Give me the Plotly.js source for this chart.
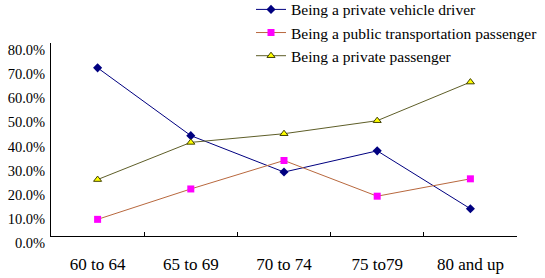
<!DOCTYPE html>
<html>
<head>
<meta charset="utf-8">
<script src="https://cdn.plot.ly/plotly-3.0.1.min.js"></script>
<style>
  html, body { margin: 0; padding: 0; background: #fff; }
  #chart { width: 545px; height: 278px; }
</style>
</head>
<body>
<div id="chart"></div>
<script>
// Age groups on the category axis
const ageGroups = ["60 to 64", "65 to 69", "70 to 74", "75 to79", "80 and up"];

// Share of respondents for each travel role (fractions)
const privateDriver = [0.697, 0.416, 0.265, 0.353, 0.113];
const publicPassenger = [0.069, 0.195, 0.313, 0.165, 0.237];
const privatePassenger = [0.234, 0.388, 0.424, 0.478, 0.638];

// Y axis tick values and labels
const yTickVals = [0, 0.1, 0.2, 0.3, 0.4, 0.5, 0.6, 0.7, 0.8];
const yTickText = ["0.0%", "10.0%", "20.0%", "30.0%", "40.0%", "50.0%", "60.0%", "70.0%", "80.0%"];

const serif = "Liberation Serif, Times New Roman, serif";

const traces = [
  {
    name: "Being a private vehicle driver",
    x: ageGroups, y: privateDriver,
    type: "scatter", mode: "lines+markers",
    line: { color: "#000080", width: 1 },
    marker: { symbol: "diamond", size: 7, color: "#000080" }
  },
  {
    name: "Being a public transportation passenger",
    x: ageGroups, y: publicPassenger,
    type: "scatter", mode: "lines+markers",
    line: { color: "#b8683e", width: 1 },
    marker: { symbol: "square", size: 7, color: "#ff00ff" }
  },
  {
    name: "Being a private passenger",
    x: ageGroups, y: privatePassenger,
    type: "scatter", mode: "lines+markers",
    line: { color: "#5e5e28", width: 1 },
    marker: { symbol: "triangle-up", size: 7, color: "#ffff00",
              line: { color: "#404000", width: 1 } }
  }
];

const layout = {
  width: 545, height: 278,
  paper_bgcolor: "#ffffff", plot_bgcolor: "#ffffff",
  margin: { l: 51, r: 28, t: 43, b: 42, autoexpand: false },
  showlegend: true,
  legend: {
    x: 0.4292, y: 1.26, xanchor: "left", yanchor: "top",
    bgcolor: "rgba(0,0,0,0)",
    font: { family: serif, size: 15.5, color: "#000" },
    tracegroupgap: 0, itemwidth: 30
  },
  xaxis: {
    type: "category",
    range: [-0.5, 4.5],
    automargin: false,
    showline: true, linecolor: "#000", linewidth: 1,
    showgrid: false, zeroline: false,
    ticks: "inside", ticklen: 4, tickcolor: "#000",
    tickson: "boundaries",
    tickfont: { family: serif, size: 17, color: "#000" },
    ticklabelstandoff: 13
  },
  yaxis: {
    range: [0, 0.8],
    automargin: false,
    tickvals: yTickVals, ticktext: yTickText,
    showline: true, linecolor: "#000", linewidth: 1,
    showgrid: false, zeroline: false,
    ticks: "",
    ticklabelshift: 7,
    ticklabelstandoff: 2,
    tickfont: { family: serif, size: 14.5, color: "#000" }
  }
};

Plotly.newPlot("chart", traces, layout, { displayModeBar: false, staticPlot: true });
</script>
</body>
</html>
